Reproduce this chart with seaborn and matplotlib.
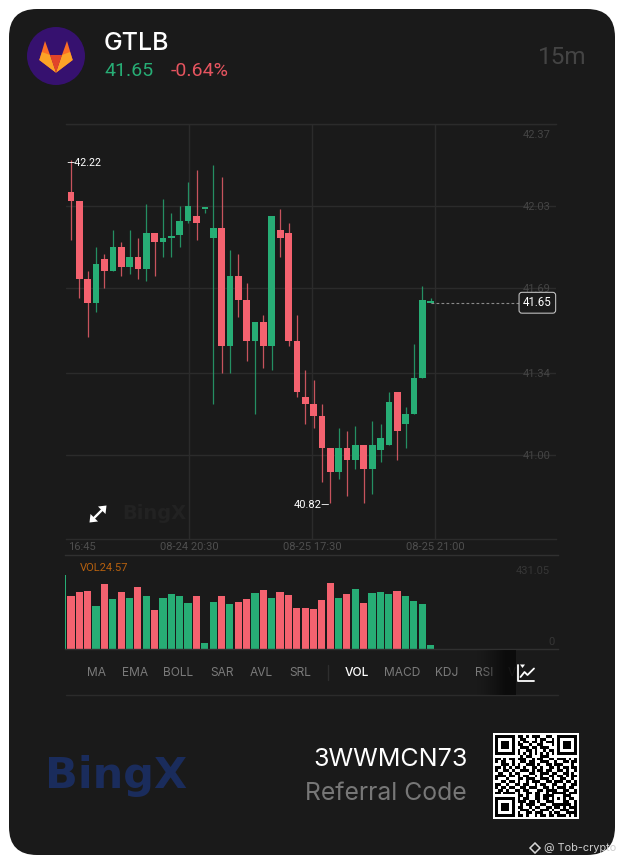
import numpy as np
import pandas as pd
import matplotlib
matplotlib.use("Agg")
import matplotlib.pyplot as plt
from matplotlib.patches import FancyBboxPatch, Circle, Polygon
import seaborn as sns

# ---------- data ----------
symbol = "GTLB"
price_label = "41.65"
change_label = "-0.64%"
interval = "15m"
open_ = [42.09,42.05,41.73,41.63,41.81,41.76,41.86,41.78,41.82,41.77,41.92,41.88,41.90,41.91,41.97,
         41.99,42.02,41.90,41.94,41.45,41.74,41.64,41.47,41.55,41.45,41.93,41.92,41.47,41.24,41.21,
         41.16,41.03,40.93,41.03,40.98,41.04,40.94,41.02,41.04,41.26,41.13,41.17,41.32,41.63]
close = [42.05,41.73,41.63,41.79,41.76,41.86,41.78,41.82,41.77,41.92,41.88,41.90,41.90,41.97,42.03,
         41.96,42.02,41.94,41.45,41.74,41.64,41.47,41.55,41.45,41.99,41.90,41.47,41.26,41.21,41.16,
         41.03,40.93,41.03,40.98,41.04,40.94,41.04,41.07,41.22,41.10,41.17,41.32,41.64,41.63]
high =  [42.22,42.05,41.76,41.86,41.83,41.93,41.88,41.93,41.90,42.04,41.92,42.06,42.00,42.03,42.13,
         42.18,42.02,42.20,42.15,41.85,41.83,41.71,41.55,41.58,41.99,42.02,41.96,41.58,41.35,41.31,
         41.21,41.03,41.11,41.10,41.12,41.04,41.14,41.13,41.26,41.26,41.20,41.46,41.70,41.65]
low =   [41.89,41.65,41.49,41.59,41.69,41.76,41.74,41.75,41.73,41.72,41.74,41.82,41.82,41.86,41.96,
         41.89,42.00,41.21,41.34,41.34,41.57,41.39,41.17,41.36,41.35,41.82,41.45,41.24,41.13,41.11,
         40.89,40.80,40.90,40.83,40.94,40.80,40.84,40.97,41.04,40.98,41.03,41.17,41.32,41.63]
volume = [307,334,340,250,377,289,334,295,359,311,227,295,320,309,270,311,33,276,307,262,276,293,
          324,344,299,330,317,237,237,231,284,386,297,320,348,270,324,334,320,336,311,278,260,23]
prior_volume = 431.05
price_ticks = [42.37,42.03,41.69,41.34,41.00]
time_ticks = [14.12,28.8,43.56]
time_labels = ["08-24 20:30","08-25 17:30","08-25 21:00"]
first_time = "16:45"
high_label = "42.22"
low_label = "40.82"
vol_label = "VOL24.57"
vol_top = "431.05"
tabs = ["MA","EMA","BOLL","SAR","AVL","SRL","VOL","MACD","KDJ","RSI","V"]
tab_x = [96,135,178.5,222,261,300,356.5,402,447,484,512]
qr_rows = [
 "XXXXXXX."+"XX.X.XXX..XX."+".XXXXXXX",
 "X.....X."+".XX...X.XX..X"+".X.....X",
 "X.XXX.X."+"X.XX.XX.X.XXX"+".X.XXX.X",
 "X.XXX.X."+"XX..X..XX...X"+".X.XXX.X",
 "X.XXX.X."+".XXX.XX.XXX.."+".X.XXX.X",
 "X.....X."+"X..XX.X..X.XX"+".X.....X",
 "XXXXXXX."+"X.X.X.X.X.X.X"+".XXXXXXX",
 "........"+".X.XX...XXX.."+"........",
 "XX.X.XX.XXX..X.XX..XX.XXX.X.X",
 "X.XX..X..XX.XX..XXX..X..XX.XX",
 "..XXX.X.X..XXX.X..XX.XXX...X.",
 "XX.X.X.XX.X..XX.X..XX.X.XX.XX",
 "X..XX.X..XXX.X.XX.XX..XX.X..X",
 ".XX..X.XX...XX..XXX.XX..XX.X.",
 "XXXX.XX.X.XX..X.X..XX.XX.X.XX",
 "X...X...XX.XXX..XXX.X..XX..X.",
 "..XX.XX.X..X.XXX..XX.XXX.XX.X",
 "XX..X..XX.XX..X.XX..XX..X..XX",
 "X.XX.XX..XX.XXX..XX.X.XXX.XX.",
 ".XX.X..XX.XX...XX.XXXX..XX..X",
 "XX.XXXX.X..XX.XX..X.XXXXX.XXX",
 "........"+"XX.X..XX.XXX"+"X...X"+"XX..",
 "XXXXXXX."+"X.XX..XX.XX."+"X.X.X"+".XX.",
 "X.....X."+"XXX.XX.X..XX"+"X...X"+"X..X",
 "X.XXX.X."+".X.XXX..XX.."+"XXXXX"+"XX.X",
 "X.XXX.X."+"XX..X.XX..XX"+".XX.X"+".XXX",
 "X.XXX.X."+".XXX.X..XXX."+"X..XX"+"X..X",
 "X.....X."+"X..XX.XXX..X"+".XX.."+"XXXX",
 "XXXXXXX."+"XX.X..X.XX.X"+"X.XXX"+".X.X",
]

# ---------- style ----------
W, H = 624, 864
CARD = "#1a1a1a"; GREEN = "#27ad75"; RED = "#f4626f"; GRID = "#2b2b2b"
sns.set_theme(style="white", rc={"axes.facecolor": "none", "figure.facecolor": "white"})
plt.rcParams["font.family"] = ["Roboto", "DejaVu Sans"]

fig = plt.figure(figsize=(W / 100, H / 100), dpi=100)

def px_axes(x0, y0, x1, y1, **kw):
    return fig.add_axes([x0 / W, 1 - y1 / H, (x1 - x0) / W, (y1 - y0) / H], **kw)

bg = px_axes(0, 0, W, H, zorder=0)
bg.set_xlim(0, W); bg.set_ylim(H, 0); bg.axis("off")
bg.add_patch(FancyBboxPatch((9 + 28, 9 + 28), 606 - 56, 846 - 56, boxstyle="round,pad=28,rounding_size=28",
                            fc=CARD, ec="none"))

# ---------- candles ----------
df = pd.DataFrame(dict(i=np.arange(len(open_)), o=open_, c=close, h=high, l=low, v=volume))
df["up"] = df.c >= df.o
df["bottom"] = df[["o", "c"]].min(axis=1)
df["body"] = (df.o - df.c).abs().clip(lower=0.006)

XLIM = (-0.6, 57.97)
ax = px_axes(66, 124, 556, 539, zorder=2)
ax.vlines(df.i[df.up], df.l[df.up], df.h[df.up], color=GREEN, lw=0.9, alpha=0.8, zorder=3)
ax.vlines(df.i[~df.up], df.l[~df.up], df.h[~df.up], color=RED, lw=0.9, alpha=0.8, zorder=3)
for flag, col in ((True, GREEN), (False, RED)):
    sub = df[df.up == flag]
    sns.barplot(x=sub.i.values, y=sub.body.values, bottom=sub.bottom.values, native_scale=True,
                color=col, saturation=1, width=0.8, ax=ax, linewidth=0, zorder=4)
ax.set_xlim(*XLIM)
ax.set_ylim(40.652, 42.37)
ax.set_xlabel(""); ax.set_ylabel("")
tick_text = [f"{t:.2f}" for t in price_ticks]
ax.set_yticks(price_ticks, [""] + tick_text[1:])
ax.yaxis.tick_right()
ax.set_xticks(time_ticks, time_labels)
ax.tick_params(axis="y", length=0, pad=-24, labelsize=8, labelcolor="#444444")
ax.tick_params(axis="x", length=0, pad=2.5, labelsize=8, labelcolor="#4e4e4e")
ax.grid(True, color=GRID, lw=1)
ax.set_axisbelow(True)
for s in ("left", "right"):
    ax.spines[s].set_visible(False)
for s in ("top", "bottom"):
    ax.spines[s].set_color(GRID); ax.spines[s].set_linewidth(1)
# the top price sits just under its grid line
ax.annotate(tick_text[0], xy=(1, 1), xycoords="axes fraction", xytext=(-24, -8), textcoords="offset points",
            color="#444444", fontsize=8, ha="left", va="center")

# last price line and labels
last = close[-1]
ax.hlines(last, 43.0, 53.5, color="#8a8a8a", lw=0.8, ls=(0, (2.5, 2)), zorder=3)
ax.text(55.74, last, price_label, color="white", fontsize=8.3, ha="center", va="center", zorder=6,
        bbox=dict(boxstyle="round,pad=0.34,rounding_size=0.25", fc=CARD, ec="#bdbdbd", lw=0.8))
ax.annotate("—" + high_label, xy=(-0.6, high[0]), xytext=(0, -2.2), textcoords="offset points",
            color="white", fontsize=7.7, ha="left", va="center", zorder=6)
ax.annotate(low_label + "—", xy=(31, min(low)), xytext=(0, -1.4), textcoords="offset points",
            color="white", fontsize=7.9, ha="right", va="center", zorder=6)

# ---------- volume ----------
vx = px_axes(65, 555, 558, 649, zorder=2)
vdf = pd.DataFrame(dict(i=np.r_[-1, df.i], v=np.r_[prior_volume, df.v], d=np.r_[True, df.up]))
sns.barplot(vdf, x="i", y="v", hue="d", palette={True: GREEN, False: RED}, native_scale=True, dodge=False,
            saturation=1, width=0.86, ax=vx, legend=False, linewidth=0)
vx.set_xlim(-0.718, 58.25)
vx.set_ylim(0, prior_volume * 94 / 74)
vx.set_xlabel(""); vx.set_ylabel("")
vx.set_xticks([]); vx.set_yticks([])
vx.tick_params(length=0)
for s in ("left", "right"):
    vx.spines[s].set_visible(False)
for s in ("top", "bottom"):
    vx.spines[s].set_color("#303030"); vx.spines[s].set_linewidth(1)

# ---------- QR ----------
qr_bg = px_axes(493, 733, 579, 819, zorder=2); qr_bg.set_facecolor("white")
qr_bg.set_xticks([]); qr_bg.set_yticks([])
for s in qr_bg.spines.values():
    s.set_visible(False)
qr = px_axes(495, 735, 577, 817, zorder=3)
matrix = np.array([[ch == "X" for ch in r.ljust(29, ".")[:29]] for r in qr_rows], dtype=float)
sns.heatmap(matrix, cmap=["white", "black"], cbar=False, xticklabels=False, yticklabels=False, ax=qr, square=False)

# ---------- foreground decoration ----------
fg = px_axes(0, 0, W, H, zorder=5)
fg.axis("off")

def T(x, y, s, **kw):
    kw.setdefault("va", "center")
    return fg.text(x, y, s, **kw)

# logo
fg.add_patch(Circle((56, 56), 29, fc="#36116f", ec="none"))
fg.add_patch(Polygon([(39.3, 60), (45, 41), (50, 55), (56, 72.7), (62, 55), (67, 41), (72.7, 60), (56, 72.7)],
                     fc="#fc6d26", ec="none"))
fg.add_patch(Polygon([(39.3, 60), (42, 52), (50, 55), (56, 72.7)], fc="#fca326", ec="none"))
fg.add_patch(Polygon([(72.7, 60), (70, 52), (62, 55), (56, 72.7)], fc="#fca326", ec="none"))
fg.add_patch(Polygon([(50, 55), (62, 55), (56, 72.7)], fc="#e24329", ec="none"))

T(104, 44, symbol, color="white", fontsize=18, family="Inter", weight="medium")
T(104, 71.5, price_label, color=GREEN, fontsize=14)
T(171, 71.5, change_label, color="#e5545f", fontsize=14)
T(587, 57, interval, color="#444444", fontsize=17.5, ha="right")

T(68, 547.5, first_time, color="#4e4e4e", fontsize=8)
T(80, 568, vol_label, color="#b5600f", fontsize=8)
T(550, 571, vol_top, color="#363636", fontsize=8, ha="right")
T(555, 642, "0", color="#363636", fontsize=8, ha="right")
T(122, 519, "BingX", color="#222222", fontsize=14, family="DejaVu Sans", weight="bold", va="baseline")

# expand icon
fg.plot([92, 104], [520, 508], color="white", lw=1.7, solid_capstyle="butt")
fg.add_patch(Polygon([(106.5, 505.5), (98, 506.5), (105.5, 514)], fc="white", ec="none"))
fg.add_patch(Polygon([(89.5, 522.5), (98, 521.5), (90.5, 514)], fc="white", ec="none"))

# tabs
for name, x in zip(tabs, tab_x):
    active = name == "VOL"
    T(x, 673, name, color="white" if active else "#7a7a7a", fontsize=8.6, ha="center",
      family="Inter", weight="medium" if active else "normal")
fg.plot([327.5, 327.5], [665, 680], color="#2e2e2e", lw=1)
fg.plot([66, 558], [695, 695], color="#2b2b2b", lw=1)
fade_alpha = np.clip(np.linspace(0, 1.25, 40), 0, 0.92) ** 1.4
fade = np.zeros((1, 40, 4)); fade[..., :3] = 0.04; fade[..., 3] = fade_alpha
fg.imshow(fade, extent=(476, 516, 695, 650), aspect="auto", zorder=4, interpolation="bilinear")
# chart icon
fg.plot([518, 518, 534], [665, 680.5, 680.5], color="white", lw=1.3, zorder=5)
fg.plot([520.5, 524.5, 527.5, 534], [677, 672, 675, 668.5], color="white", lw=1.3, zorder=5)
fg.add_patch(Polygon([(520, 664.5), (525, 664.5), (522.5, 668)], fc="white", ec="none", zorder=5))

# footer
T(45, 788, "BingX", color="#1a2c5c", fontsize=31, family="DejaVu Sans", weight="bold", va="baseline")
T(468, 759, "3WWMCN73", color="white", fontsize=18, ha="right", family="Inter")
T(467, 793, "Referral Code", color="#777777", fontsize=17.8, ha="right", family="Inter")
fg.plot([535], [848], marker="D", ms=5.5, mfc="none", mec="#d8d8d8", mew=1.1)
T(544, 848, "@ Tob-crypto", color="#cfcfcf", fontsize=7.9, family="Inter")
fg.set_xlim(0, W); fg.set_ylim(H, 0)

fig.savefig("out.png", dpi=100, facecolor="white")
